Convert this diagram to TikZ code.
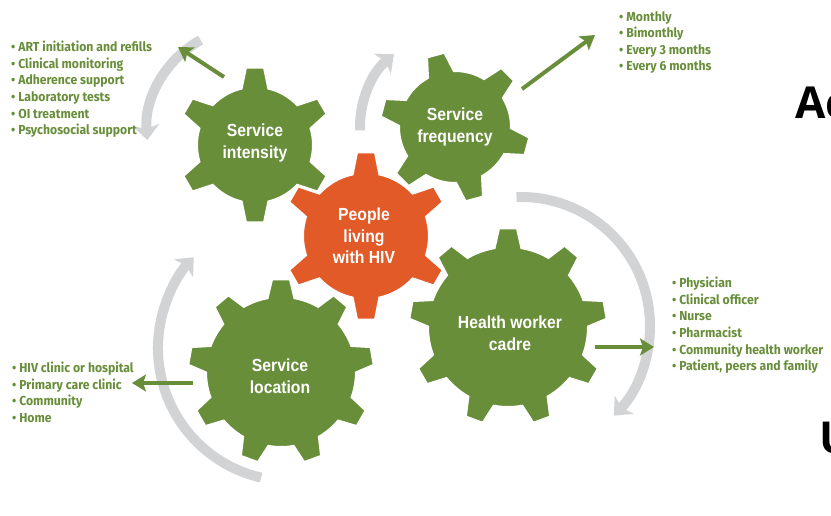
\documentclass[tikz,border=0pt]{standalone}
\usepackage{fontspec}
\setmainfont{Liberation Sans}
\newfontfamily\gearfont{Liberation Sans}[FakeStretch=0.9]
\newfontfamily\listfont{Fira Sans}[FakeStretch=0.94]
\newfontfamily\sidefont{Open Sans}
\usepackage{tikz}
\usetikzlibrary{arrows.meta}

\definecolor{gearGreen}{RGB}{104,142,58}
\definecolor{hivOrange}{RGB}{226,90,39}
\definecolor{arcGrey}{RGB}{210,211,213}

% centre, teeth, inner radius, outer radius, first tooth angle, colour
\newcommand{\gear}[6]{%
  \pgfmathsetmacro\gstep{360/#2}
  \pgfmathsetmacro\gbase{deg(13.5/#3)}
  \pgfmathsetmacro\gtip{deg(9/#4)}
  \filldraw[#6,draw=white,line width=2pt,shift={(#1)}]
    ({#5-\gbase}:#3)
    \foreach \k in {1,...,#2}{
      -- ({#5+(\k-1)*\gstep-\gtip}:#4) -- ({#5+(\k-1)*\gstep+\gtip}:#4)
      -- ({#5+(\k-1)*\gstep+\gbase}:#3)
      arc[start angle={#5+(\k-1)*\gstep+\gbase},end angle={#5+\k*\gstep-\gbase},radius=#3]
    } -- cycle;
}

\begin{document}
\begin{tikzpicture}[x=1pt,y=1pt,
 gearlabel/.style={text=white,align=center,font=\gearfont\bfseries\fontsize{17.5}{21.5}\selectfont},
 itemlist/.style={anchor=north west,inner sep=0pt,align=left,text=gearGreen,font=\listfont\bfseries\fontsize{13}{16.6}\selectfont},
 greyarc/.style={arcGrey,line width=10pt,-{Stealth[length=15pt,width=26pt,inset=4pt]}},
 arr/.style={gearGreen,line width=4pt,-{Stealth[length=14pt,width=17pt,inset=3pt]}},
 sidetext/.style={anchor=base west,inner sep=0pt,font=\sidefont\bfseries\fontsize{44}{44}\selectfont}
]
\useasboundingbox (0,0) rectangle (831,-515);

\coordinate (int) at (255,-145);
\coordinate (freq) at (455,-127);
\coordinate (plhiv) at (366,-236);
\coordinate (cadre) at (508,-327);
\coordinate (loc) at (281,-372);

\draw[greyarc] ([shift={(119:104)}]251,-131) arc[start angle=119,end angle=185,radius=104];
\draw[greyarc] ([shift={(182:95)}]freq) arc[start angle=182,end angle=130,radius=95];
\draw[greyarc] ([shift={(92:129)}]521,-326) arc[start angle=92,end angle=-44,radius=129];
\draw[greyarc] ([shift={(257:133)}]291,-348) arc[start angle=257,end angle=137,radius=133];

\gear{int}{6}{58}{78}{90}{gearGreen}
\gear{freq}{6}{56}{75}{105}{gearGreen}
\gear{cadre}{9}{80}{99}{90}{gearGreen}
\gear{loc}{9}{75}{93}{90}{gearGreen}
\gear{plhiv}{6}{63}{84}{90}{hivOrange}

\node[gearlabel] (intLabel) at (255,-143) {Service\\intensity};
\node[gearlabel] (freqLabel) at (455,-127) {Service\\frequency};
\node[gearlabel] (plhivLabel) at (364,-236) {People\\living\\with HIV};
\node[gearlabel] (cadreLabel) at (510,-333) {Health worker\\cadre};
\node[gearlabel] (locLabel) at (280,-376) {Service\\location};

\node[itemlist] (intList) at (11,-41) {\textbullet\ ART initiation and refills\\\textbullet\ Clinical monitoring\\\textbullet\ Adherence support\\\textbullet\ Laboratory tests\\\textbullet\ OI treatment\\\textbullet\ Psychosocial support};
\node[itemlist] (freqList) at (619,-11) {\textbullet\ Monthly\\\textbullet\ Bimonthly\\\textbullet\ Every 3 months\\\textbullet\ Every 6 months};
\node[itemlist] (cadreList) at (672,-277) {\textbullet\ Physician\\\textbullet\ Clinical officer\\\textbullet\ Nurse\\\textbullet\ Pharmacist\\\textbullet\ Community health worker\\\textbullet\ Patient, peers and family};
\node[itemlist] (locList) at (12,-362) {\textbullet\ HIV clinic or hospital\\\textbullet\ Primary care clinic\\\textbullet\ Community\\\textbullet\ Home};

\coordinate (intOut) at (224,-77);
\coordinate (intTip) at (178,-47);
\coordinate (freqOut) at (522,-89);
\coordinate (freqTip) at (595,-35);
\coordinate (cadreOut) at (595,-347);
\coordinate (cadreTip) at (654,-347);
\coordinate (locOut) at (193,-383);
\coordinate (locTip) at (132,-383);
\draw[arr] (intOut)--(intTip);
\draw[arr] (freqOut)--(freqTip);
\draw[arr] (cadreOut)--(cadreTip);
\draw[arr] (locOut)--(locTip);

\node[sidetext] (sideA) at (795,-118) {Ac};
\node[sidetext] (sideU) at (819,-453) {U};
\end{tikzpicture}
\end{document}
